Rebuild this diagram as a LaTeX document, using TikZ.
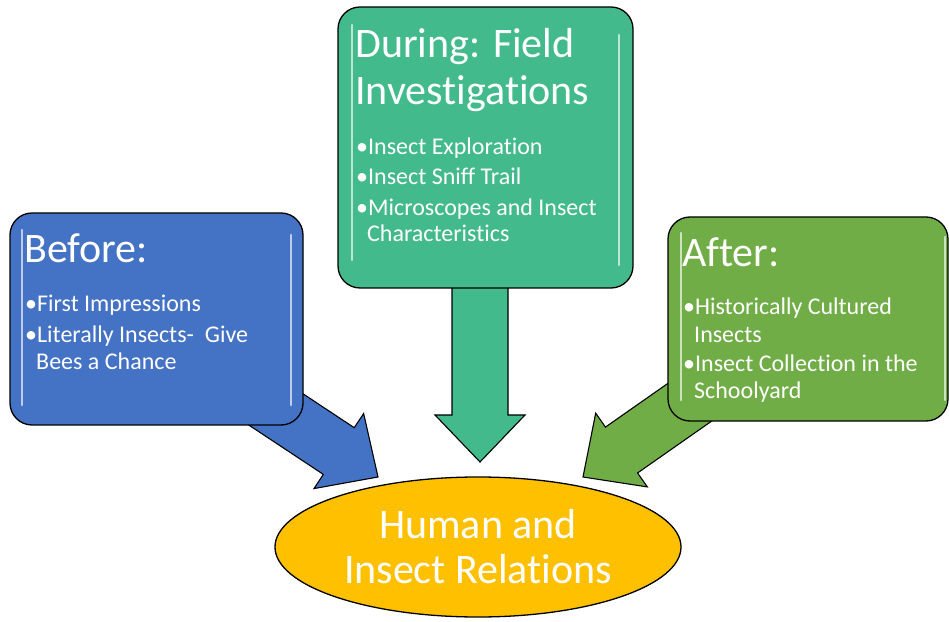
\documentclass[tikz,border=0pt]{standalone}
\usepackage{fontspec}
\setmainfont[Ligatures=NoCommon]{Carlito}
\usetikzlibrary{shapes.geometric}
\definecolor{cBlue}{HTML}{4472C4}
\definecolor{cTeal}{HTML}{43BA8B}
\definecolor{cGreen}{HTML}{70AD47}
\definecolor{cGold}{HTML}{FFC000}
\tikzset{
  box/.style={draw=black, line width=1.3pt, rounded corners=22pt, inner sep=0pt},
  blockarrow/.style={draw=black, line width=1.1pt, line join=miter},
  shine/.style={draw=white, line width=2.6pt, opacity=0.65, line cap=round},
  title/.style={anchor=base west, inner sep=0pt, text=white, font=\fontsize{42}{47}\selectfont},
  item/.style={anchor=base west, inner sep=0pt, text=white, font=\fontsize{24}{27}\selectfont},
  goal/.style={draw=black, line width=1.3pt, ellipse, fill=cGold, inner sep=0pt, minimum width=406pt, minimum height=140pt},
  goaltext/.style={anchor=base, inner sep=0pt, text=white, font=\fontsize{42}{45}\selectfont}
}
\begin{document}
\begin{tikzpicture}[x=1pt,y=1pt]
\useasboundingbox (0,0) rectangle (949,621);
% arrow tips
\coordinate (tipB) at (378,144);
\coordinate (tipD) at (480,159);
\coordinate (tipA) at (583,144);
% block arrows (drawn first, boxes cover their start)
\begin{scope}[shift={(tipB)}, rotate=-33.5]
  \draw[blockarrow, fill=cBlue] (0,0) -- (-47,45) -- (-47,28) -- (-165,28) -- (-165,-28) -- (-47,-28) -- (-47,-45) -- cycle;
\end{scope}
\begin{scope}[shift={(tipD)}, rotate=-90]
  \draw[blockarrow, fill=cTeal] (0,0) -- (-47,45) -- (-47,28) -- (-195,28) -- (-195,-28) -- (-47,-28) -- (-47,-45) -- cycle;
\end{scope}
\begin{scope}[shift={(tipA)}, rotate=215]
  \draw[blockarrow, fill=cGreen] (0,0) -- (-47,45) -- (-47,28) -- (-165,28) -- (-165,-28) -- (-47,-28) -- (-47,-45) -- cycle;
\end{scope}
% boxes
\node[box, fill=cBlue, minimum width=293pt, minimum height=212pt] (before) at (156.5,302) {};
\node[box, fill=cTeal, minimum width=295pt, minimum height=281pt] (during) at (485.5,473.5) {};
\node[box, fill=cGreen, minimum width=280pt, minimum height=204pt] (after) at (808,302) {};
% shine lines
\draw[shine] (22,391) -- (22,216);
\draw[shine] (291,386) -- (291,216);
\draw[shine] (352,596) -- (352,361);
\draw[shine] (619,586) -- (619,356);
\draw[shine] (681,388) -- (681,221);
\draw[shine] (945,384) -- (945,221);
% goal ellipse
\node[goal] (goal) at (478,74) {};
% texts
\node[title] (bt) at (24,358) {Before:};
\node[item] (b1) at (25,309) {•First Impressions};
\node[item] (b2) at (25,278) {•Literally Insects-\ \ Give};
\node[item] (b3) at (36,251) {Bees a Chance};
\node[title] (dt1) at (355,563) {During: Field};
\node[title] (dt2) at (355,516) {Investigations};
\node[item] (d1) at (356,466) {•Insect Exploration};
\node[item] (d2) at (356,436) {•Insect Sniff Trail};
\node[item] (d3) at (356,405) {•Microscopes and Insect};
\node[item] (d4) at (367,379) {Characteristics};
\node[title] (at) at (682,354) {After:};
\node[item] (a1) at (683,306) {•Historically Cultured};
\node[item] (a2) at (694,278) {Insects};
\node[item] (a3) at (683,249) {•Insect Collection in the};
\node[item] (a4) at (694,222) {Schoolyard};
\node[goaltext] (g1) at (478,83) {Human and};
\node[goaltext] (g2) at (478,38) {Insect Relations};
\end{tikzpicture}
\end{document}
